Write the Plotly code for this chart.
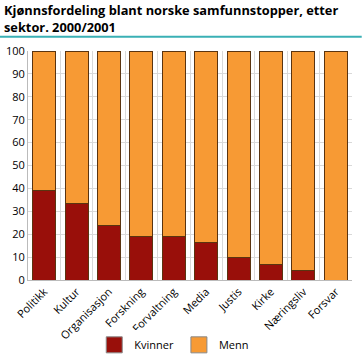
import plotly.graph_objects as go

categories = ["Politikk", "Kultur", "Organisasjon", "Forskning", "Forvaltning",
              "Media", "Justis", "Kirke", "Næringsliv", "Forsvar"]
kvinner = [39, 33.5, 24, 19, 19, 16.5, 10, 6.7, 4, 0]
menn = [61, 66.5, 76, 81, 81, 83.5, 90, 93.3, 96, 100]
y_ticks = [0, 10, 20, 30, 40, 50, 60, 70, 80, 90, 100]

RED = "#990F0A"
ORANGE = "#F79A34"
OUTLINE = "#5A3410"
FONT = "Open Sans"

fig = go.Figure()
fig.add_trace(go.Bar(x=categories, y=kvinner, name="Kvinner", marker_color=RED,
                     marker_line_color=OUTLINE, marker_line_width=1, showlegend=False))
fig.add_trace(go.Bar(x=categories, y=menn, name="Menn", marker_color=ORANGE,
                     marker_line_color=OUTLINE, marker_line_width=1, showlegend=False))
# legend entries
fig.add_trace(go.Scatter(x=[None], y=[None], mode="markers", name="Kvinner",
                         marker=dict(symbol="square", size=20, color=RED,
                                     line=dict(color="#888888", width=1))))
fig.add_trace(go.Scatter(x=[None], y=[None], mode="markers", name="Menn",
                         marker=dict(symbol="square", size=20, color=ORANGE,
                                     line=dict(color="#888888", width=1))))

fig.update_layout(
    width=363, height=363,
    barmode="stack", bargap=0.29,
    paper_bgcolor="white", plot_bgcolor="white",
    margin=dict(l=28, r=11, t=51, b=83, autoexpand=False),
    font=dict(family=FONT, size=11, color="#000000"),
    annotations=[dict(text="<b>Kjønnsfordeling blant norske samfunnstopper, etter<br>sektor. 2000/2001</b>",
                      xref="paper", yref="paper", x=-0.08, y=1.225,
                      xanchor="left", yanchor="top", align="left", showarrow=False,
                      font=dict(family=FONT, size=12.8, color="#000000"))],
    xaxis=dict(tickangle=-45, tickson="boundaries", showgrid=True, gridcolor="#D9D9D9",
               gridwidth=1, showline=True, linecolor="#BBBBBB", ticks="",
               tickfont=dict(size=11), range=[-0.5, 9.5]),
    yaxis=dict(range=[0, 100], tickvals=y_ticks, showgrid=True, gridcolor="#D9D9D9",
               gridwidth=1, showline=True, linecolor="#BBBBBB", ticks="",
               tickfont=dict(size=11), zeroline=False, fixedrange=True),
    legend=dict(orientation="h", xref="container", yref="container",
                x=0.48, xanchor="center", y=0.05, yanchor="middle",
                traceorder="normal", font=dict(size=11), itemclick=False),
    shapes=[dict(type="line", xref="paper", yref="paper", x0=-0.087, x1=1.03,
                 y0=1.062, y1=1.062, line=dict(color="#3AB0B5", width=2))],
)

fig.write_html("out.html", config={"displayModeBar": False},
               post_script="document.body.style.margin='0';document.body.style.overflow='hidden';")
